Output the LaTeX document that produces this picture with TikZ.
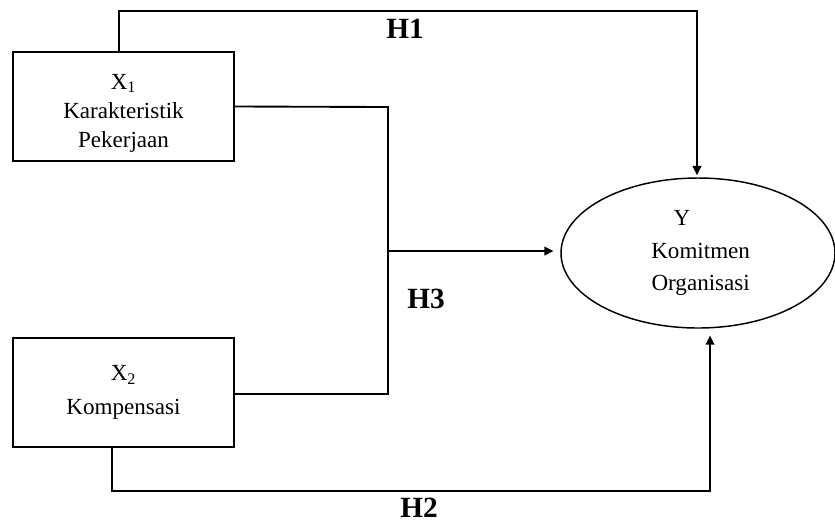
\documentclass[tikz,border=0pt]{standalone}
\usepackage{fontspec}
\setmainfont{Liberation Serif}
\usetikzlibrary{arrows.meta,shapes.geometric}

\tikzset{
  varbox/.style={draw, line width=1.4pt, minimum width=165.75pt, minimum height=81.75pt,
    inner sep=0pt, align=center, font=\fontsize{17.3}{21.75}\selectfont},
  depvar/.style={draw, ellipse, line width=1.1pt, minimum width=205.5pt, minimum height=112.5pt,
    inner sep=0pt, align=center, font=\fontsize{17.3}{24.5}\selectfont},
  link/.style={line width=1.4pt},
  arr/.style={link, -{Triangle[length=7pt,width=6.5pt]}},
  hyp/.style={anchor=base, inner sep=0pt, font=\fontsize{22}{24}\selectfont\bfseries}
}

\begin{document}
\begin{tikzpicture}[x=0.75pt, y=-0.75pt]
  \useasboundingbox (0,0) rectangle (835,522);

  % variables (a tall strut on the first line lowers the text block)
  \node[varbox] (x1) at (123.5,106.5) {\rule{0pt}{21pt}X\textsubscript{1}\\Karakteristik\\Pekerjaan};
  \node[varbox, font=\fontsize{17.3}{25.5}\selectfont] (x2) at (123.5,392.5) {X\textsubscript{2}\\Kompensasi};
  \node[depvar] (y) at (698,253) {\kern-24pt Y\\\hspace*{4pt}Komitmen\\\hspace*{4pt}Organisasi};

  % routing points
  \coordinate (h1a) at (119,11);
  \coordinate (h1b) at (697,11);
  \coordinate (h3a) at (388,107);
  \coordinate (h3b) at (388,394);
  \coordinate (h3j) at (388,251);
  \coordinate (h2a) at (112,491);
  \coordinate (h2b) at (710,491);

  % H1: X1 -> Y
  \draw[arr, shorten >=1.5pt] (x1.north -| h1a) -- (h1a) -- (h1b) -- (h1b |- y.north);
  % H3: X1 and X2 jointly -> Y
  \draw[link] (x1.east) -- (h3a) -- (h3b) -- (x2.east |- h3b);
  \draw[arr, shorten >=5pt] (h3j) -- (h3j -| y.west);
  % H2: X2 -> Y
  \draw[arr, shorten >=5pt] (x2.south -| h2a) -- (h2a) -- (h2b) -- (y.south -| h2b);

  % hypothesis labels
  \node[hyp] (lh1) at (405,38) {H1};
  \node[hyp] (lh3) at (426,308) {H3};
  \node[hyp] (lh2) at (419,517) {H2};
\end{tikzpicture}
\end{document}
